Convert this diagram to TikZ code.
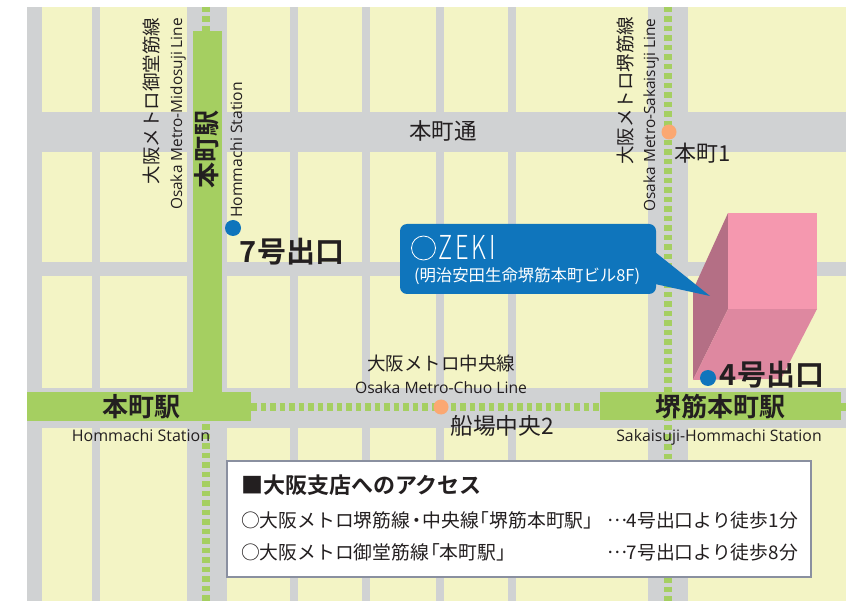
\documentclass[tikz,border=0pt]{standalone}
\usepackage{fontspec}
\setmainfont{Noto Sans CJK JP}
\newfontfamily\jpfont{Noto Sans CJK JP}
\newfontfamily\jpbold{Noto Sans CJK JP Bold}
\newfontfamily\jpthin{Noto Sans CJK JP Light}
\newfontfamily\enfont{Open Sans}
\definecolor{road}{HTML}{D0D2D3}
\definecolor{block}{HTML}{F3F4C5}
\definecolor{rail}{HTML}{A5CF61}
\definecolor{ink}{HTML}{231F20}
\definecolor{blue}{HTML}{0F75BC}
\definecolor{orangedot}{HTML}{FBA872}
\definecolor{front}{HTML}{F598AF}
\definecolor{side}{HTML}{B46F85}
\definecolor{under}{HTML}{DE88A0}
\definecolor{frame}{HTML}{8A90A0}
\tikzset{
  lbl/.style={inner sep=0pt,outer sep=0pt,anchor=base,text=ink},
  jp/.style={lbl,font=\jpfont\fontsize{#1}{#1}\selectfont},
  jb/.style={lbl,font=\jpbold\fontsize{#1}{#1}\selectfont},
  en/.style={lbl,font=\enfont\fontsize{#1}{#1}\selectfont},
  metro/.style={draw=rail,line width=8pt,dash pattern=on 5.5pt off 4pt},
  station/.style={fill=rail,draw=none,inner sep=0pt,outer sep=0pt,anchor=north west,minimum width=#1},
  exitdot/.style={circle,fill=blue,minimum size=16pt,inner sep=0pt,outer sep=0pt},
  stopdot/.style={circle,fill=orangedot,minimum size=15pt,inner sep=0pt,outer sep=0pt},
}
\newcommand{\kb}{\hspace{-8pt}}
\newcommand{\lsp}{\hspace{4pt}}
\newcommand{\cdotsjp}{\raisebox{5.5pt}{⋯}}
\begin{document}
\begin{tikzpicture}[x=1pt,y=-1pt]
\useasboundingbox (0,0) rectangle (862,601);
% ground
\fill[block] (27,7) rectangle (846,601);
% roads
\fill[road] (27,7) rectangle (42,601);
\fill[road] (92,7) rectangle (100,601);
\fill[road] (187,7) rectangle (227,601);
\fill[road] (290,7) rectangle (297.5,601);
\fill[road] (362,7) rectangle (370,601);
\fill[road] (436,7) rectangle (444,601);
\fill[road] (508,7) rectangle (516,601);
\fill[road] (648,7) rectangle (688,601);
\fill[road] (27,112) rectangle (846,152);
\fill[road] (27,262) rectangle (846,276);
\fill[road] (27,388) rectangle (846,428);
% stations
\node[station=29pt,minimum height=361pt] (mv) at (193,31) {};
\node[station=224pt,minimum height=29pt] (mh) at (27,392) {};
\node[station=241pt,minimum height=28pt] (sh) at (600,392) {};
% metro lines
\coordinate (mtop) at (206,7);
\coordinate (mbot) at (206,601);
\coordinate (mstart) at (206,424);
\coordinate (stop) at (668,7);
\coordinate (sbot) at (668,601);
\coordinate (rend) at (846,407);
\draw[metro] (mtop) -- (mv.north -| mtop);
\draw[metro] (mstart) -- (mbot);
\draw[metro] (stop) -- (sbot);
\draw[metro] (mh.east |- rend) -- (sh.west |- rend);
\draw[metro,dash pattern=on 5pt off 0pt] (sh.east |- rend) -- (rend);
\node[stopdot] (s1) at (669,132) {};
\node[stopdot] (s2) at (441,407) {};
% building
\fill[side] (728,213) -- (693,290) -- (693,380) -- (728,309) -- cycle;
\fill[under] (728,309) -- (817,309) -- (781,379) -- (693,380) -- cycle;
\fill[front] (728,213) rectangle (817,309);
% callout
\node[fill=blue,rounded corners=7pt,minimum width=256pt,minimum height=70pt,inner sep=0pt,outer sep=0pt,anchor=north west] (call) at (400,224) {};
\coordinate (tip) at (710,296);
\fill[blue] ([xshift=-1pt]call.east |- 0,252) -- (tip) -- ([xshift=-1pt]call.east |- 0,284) -- cycle;
\node[circle,draw=white,line width=.8pt,minimum size=24pt,inner sep=0pt,outer sep=0pt] (ring) at (423.5,248) {};
\node[lbl,text=white,font=\jpthin\fontsize{33}{33}\selectfont,xscale=.72,anchor=base west] (ozeki) at (438,260) {Z\lsp E\lsp K\lsp I};
\node[jp=16.4,text=white,anchor=base west] (bldg) at (414,282) {(明治安田生命堺筋本町ビル8F)};
% dots
\node[exitdot] (e7) at (233,228) {};
\node[exitdot] (e4) at (708,378) {};
% labels
\node[jp=18.5,rotate=90] (l1) at (158,101) {大阪メトロ御堂筋線};
\node[en=15.4,rotate=90] (l2) at (182,114) {Osaka Metro-Midosuji Line};
\node[jb=26,rotate=90] (l3) at (216,150) {本町駅};
\node[en=15.7,rotate=90] (l4) at (242,150) {Hommachi Station};
\node[jp=22.5] (l5) at (443,140) {本町通};
\node[jb=29] (l6) at (292,263) {7号出口};
\node[jp=18.5,rotate=90] (l7) at (632,91) {大阪メトロ堺筋線};
\node[en=15.4,rotate=90] (l8) at (655,115) {Osaka Metro-Sakaisuji Line};
\node[jp=22] (l9) at (703,162) {本町1};
\node[jb=26] (l10) at (141,417) {本町駅};
\node[en=16] (l11) at (141,441) {Hommachi Station};
\node[jp=18.5] (l12) at (441,371) {大阪メトロ中央線};
\node[en=15.7] (l13) at (441,393) {Osaka Metro-Chuo Line};
\node[jp=22.7] (l14) at (502,434) {船場中央2};
\node[jb=26] (l15) at (720,417) {堺筋本町駅};
\node[en=15.8] (l16) at (719,441) {Sakaisuji-Hommachi Station};
\node[jb=29] (l17) at (772,385) {4号出口};
% legend
\node[fill=white,draw=frame,line width=2pt,minimum width=584pt,minimum height=115.5pt,inner sep=0pt,outer sep=0pt,anchor=north west] (box) at (227,461) {};
\node[jb=22,anchor=base west] (t0) at (241,493) {■大阪支店へのアクセス};
\node[jp=18.8,anchor=base west] (t1) at (241,527) {○大阪メトロ堺筋線\hspace{-3pt}・\hspace{-3.5pt}中央線\kb「堺筋本町駅」\kb};
\node[jp=18.8,anchor=base west] (t2) at (607,527) {\cdotsjp 4号出口より徒歩1分};
\node[jp=18.8,anchor=base west] (t3) at (241,559) {○大阪メトロ御堂筋線\kb「本町駅」\kb};
\node[jp=18.8,anchor=base west] (t4) at (607,559) {\cdotsjp 7号出口より徒歩8分};
\end{tikzpicture}
\end{document}
